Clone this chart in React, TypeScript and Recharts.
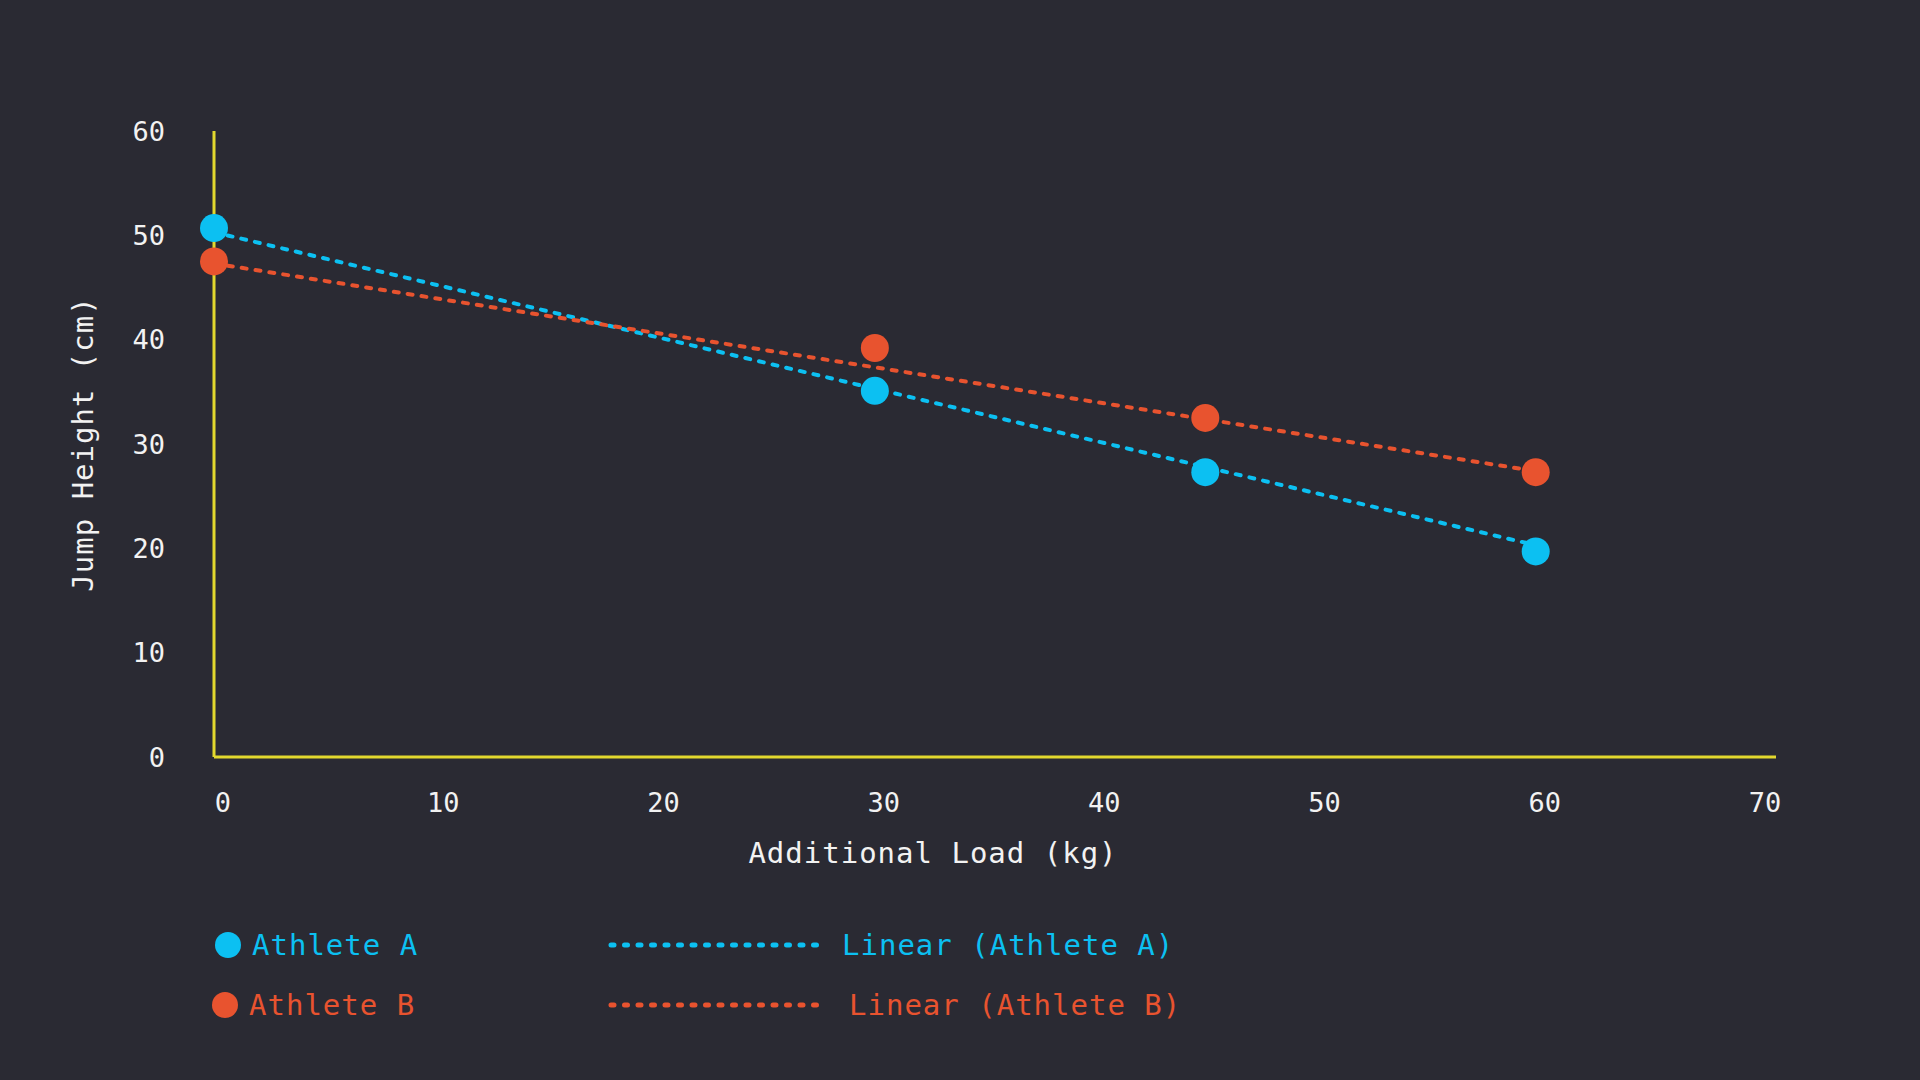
import { ComposedChart, Line, Scatter, XAxis, YAxis } from "recharts";

const loads = [0, 30, 45, 60];
const athleteA = [50.7, 35.1, 27.3, 19.7];
const athleteB = [47.5, 39.2, 32.5, 27.3];

// trend line end points
const trendLoads = [0, 60];
const trendA = [50.3, 20.3];
const trendB = [47.3, 27.4];

const xTicks = [0, 10, 20, 30, 40, 50, 60, 70];
const yTicks = [0, 10, 20, 30, 40, 50, 60];

const BG = "#2a2a33";
const CYAN = "#0cc0f2";
const ORANGE = "#e8532f";
const YELLOW = "#e2d82e";
const FONT = "'DejaVu Sans Mono', monospace";

const pointsA = loads.map((x, i) => ({ x, y: athleteA[i] }));
const pointsB = loads.map((x, i) => ({ x, y: athleteB[i] }));
const lineA = trendLoads.map((x, i) => ({ x, y: trendA[i] }));
const lineB = trendLoads.map((x, i) => ({ x, y: trendB[i] }));

const tickStyle = { fill: "#f2f2f2", fontSize: 27, fontFamily: FONT };

function Dot(props: any) {
  const { cx, cy, fill } = props;
  return <circle cx={cx} cy={cy} r={14} fill={fill} />;
}

function LegendRow({
  color,
  name,
  trend,
  top,
  dotX,
  textX,
  trendX,
}: {
  color: string;
  name: string;
  trend: string;
  top: number;
  dotX: number;
  textX: number;
  trendX: number;
}) {
  const text = {
    position: "absolute" as const,
    top: top - 18,
    fontFamily: FONT,
    fontSize: 29,
    letterSpacing: 1,
    color,
    lineHeight: "36px",
    whiteSpace: "nowrap" as const,
  };
  return (
    <>
      <svg
        style={{ position: "absolute", left: 0, top: top - 20 }}
        width={900}
        height={40}
      >
        <circle cx={dotX} cy={20} r={13} fill={color} />
        <line
          x1={611}
          x2={824}
          y1={20}
          y2={20}
          stroke={color}
          strokeWidth={5}
          strokeDasharray="3 10.5"
          strokeLinecap="round"
        />
      </svg>
      <div style={{ ...text, left: textX }}>{name}</div>
      <div style={{ ...text, left: trendX }}>{trend}</div>
    </>
  );
}

export default function App() {
  return (
    <div
      style={{
        position: "absolute",
        left: 0,
        top: 0,
        width: 1920,
        height: 1080,
        background: BG,
        overflow: "hidden",
      }}
    >
      <ComposedChart
        width={1920}
        height={1080}
        margin={{ top: 131, right: 144, left: 114, bottom: 243 }}
      >
        <XAxis
          type="number"
          dataKey="x"
          domain={[0, 70]}
          ticks={xTicks}
          allowDuplicatedCategory={false}
          padding={{ left: 0, right: 20 }}
          axisLine={{ stroke: YELLOW, strokeWidth: 3 }}
          tickLine={false}
          tickSize={0}
          tickMargin={36}
          height={80}
          tick={{ ...tickStyle, dx: 9 }}
          label={{
            content: (p: any) => (
              <text
                x={p.viewBox.x + 719}
                y={853}
                textAnchor="middle"
                dominantBaseline="central"
                fill="#f2f2f2"
                fontSize={29}
                letterSpacing={1}
                fontFamily={FONT}
              >
                Additional Load (kg)
              </text>
            ),
          }}
        />
        <YAxis
          type="number"
          dataKey="y"
          domain={[0, 60]}
          ticks={yTicks}
          width={100}
          axisLine={{ stroke: YELLOW, strokeWidth: 3 }}
          tickLine={false}
          tickSize={0}
          tickMargin={49}
          tick={tickStyle}
          label={{
            content: (p: any) => {
              const x = 83;
              const y = p.viewBox.y + p.viewBox.height / 2;
              return (
                <text
                  x={x}
                  y={y}
                  transform={`rotate(-90 ${x} ${y})`}
                  textAnchor="middle"
                  dominantBaseline="central"
                  fill="#f2f2f2"
                  fontSize={29}
                  letterSpacing={1}
                  fontFamily={FONT}
                >
                  Jump Height (cm)
                </text>
              );
            },
          }}
        />
        <Line
          data={lineA}
          dataKey="y"
          type="linear"
          stroke={CYAN}
          strokeWidth={4}
          strokeDasharray="5 9"
          strokeLinecap="round"
          dot={false}
          activeDot={false}
          isAnimationActive={false}
        />
        <Line
          data={lineB}
          dataKey="y"
          type="linear"
          stroke={ORANGE}
          strokeWidth={4}
          strokeDasharray="5 9"
          strokeLinecap="round"
          dot={false}
          activeDot={false}
          isAnimationActive={false}
        />
        <Scatter
          data={pointsB}
          fill={ORANGE}
          shape={<Dot />}
          isAnimationActive={false}
        />
        <Scatter
          data={pointsA}
          fill={CYAN}
          shape={<Dot />}
          isAnimationActive={false}
        />
      </ComposedChart>
      <LegendRow
        color={CYAN}
        name="Athlete A"
        trend="Linear (Athlete A)"
        top={945}
        dotX={228}
        textX={252}
        trendX={842}
      />
      <LegendRow
        color={ORANGE}
        name="Athlete B"
        trend="Linear (Athlete B)"
        top={1005}
        dotX={225}
        textX={249}
        trendX={849}
      />
    </div>
  );
}
